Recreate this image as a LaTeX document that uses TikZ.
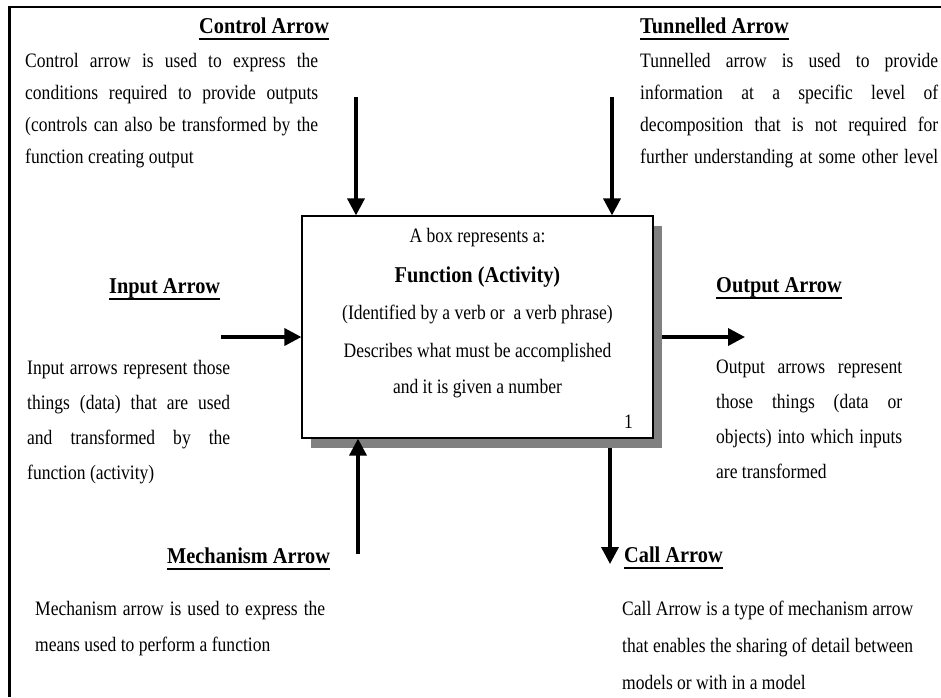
\documentclass[tikz,border=0pt]{standalone}
\usepackage{fontspec}
\setmainfont{Liberation Serif}[FakeStretch=0.855]
\newfontfamily\headfont{Liberation Serif}[FakeStretch=0.9]
\usetikzlibrary{arrows.meta}

% a line stretched to a given width, using the font's own (stretchable) spaces
\newcommand\jl[2]{{\spaceskip=0pt\xspaceskip=0pt\makebox[#1][s]{#2}}}
% natural interword spacing inside description paragraphs
\newcommand\fontspaces{\spaceskip=0pt\xspaceskip=0pt\relax}

\begin{document}
\begin{tikzpicture}[x=1pt,y=-1pt,
  head/.style={font=\headfont\fontsize{22.6}{24}\selectfont\bfseries, inner sep=0pt, anchor=base west},
  para/.style={inner sep=0pt, anchor=base west, align=justify, font=\fontsize{20.5}{#1}\selectfont\fontspaces},
  boxline/.style={inner sep=0pt, anchor=base, font=\fontsize{20.5}{22}\selectfont},
  flow/.style={line width=3.6pt, -{Triangle[length=17pt,width=17pt]}},
  uline/.style={line width=2pt}
]
\useasboundingbox (0,0) rectangle (941,697);

% outer frame (left and top edges only)
\draw[line width=2.2pt] (9.5,697) -- (9.5,7) -- (941,7);

% function box with its drop shadow
\node[fill=black!50, minimum width=351pt, minimum height=222pt, inner sep=0pt, outer sep=0pt]
  (shd) at (486.5,337) {};
\node[draw, line width=1.2pt, fill=white, minimum width=351pt, minimum height=222pt, inner sep=0pt]
  (fn) at (477.5,327) {};

\node[boxline] (b1) at (477.5,242) {A box represents a:};
\node[boxline, font=\headfont\fontsize{22.6}{24}\selectfont\bfseries] (b2) at (477.5,282) {Function (Activity)};
\node[boxline] (b3) at (477.5,319) {(Identified by a verb or\ \ a verb phrase)};
\node[boxline] (b4) at (477.5,357) {Describes what must be accomplished};
\node[boxline] (b5) at (477.5,393) {and it is given a number};
\node[boxline, anchor=base east] (bnum) at (633,428) {1};

% headings
\node[head] (hctl)  at (199,33)  {Control Arrow};
\node[head] (htun)  at (640,33)  {Tunnelled Arrow};
\node[head] (hin)   at (109,293) {Input Arrow};
\node[head] (hout)  at (716,292) {Output Arrow};
\node[head] (hmech) at (167,563) {Mechanism Arrow};
\node[head] (hcall) at (624,562) {Call Arrow};
\foreach \h in {hctl,htun,hin,hout,hmech,hcall}
  \draw[uline] ([yshift=-5.7pt]\h.base west) -- ([yshift=-5.7pt]\h.base east);

% descriptions
\node[para=32, text width=293pt] (tctl) at (25,67) {%
  \jl{293pt}{Control arrow is used to express the}\\
  \jl{293pt}{conditions required to provide outputs}\\
  \jl{293pt}{(controls can also be transformed by the}\\
  function creating output};
\node[para=32, text width=298pt] (ttun) at (640,67) {%
  \jl{298pt}{Tunnelled arrow is used to provide}\\
  \jl{298pt}{information at a specific level of}\\
  \jl{298pt}{decomposition that is not required for}\\
  \jl{298pt}{further understanding at some other level}};
\node[para=35.3, text width=203pt] (tin) at (27,374) {%
  \jl{203pt}{Input arrows represent those}\\
  \jl{203pt}{things (data) that are used}\\
  \jl{203pt}{and transformed by the}\\
  function (activity)};
\node[para=35.3, text width=186pt] (tout) at (716,373) {%
  \jl{186pt}{Output arrows represent}\\
  \jl{186pt}{those things (data or}\\
  \jl{186pt}{objects) into which inputs}\\
  are transformed};
\node[para=36, text width=290pt] (tmech) at (35,615) {%
  \jl{290pt}{Mechanism arrow is used to express the}\\
  means used to perform a function};
\node[para=37, text width=291pt] (tcall) at (622,615) {%
  \jl{291pt}{Call Arrow is a type of mechanism arrow}\\
  \jl{291pt}{that enables the sharing of detail between}\\
  models or with in a model};

% arrows
\coordinate (ctlS)  at (356,97);
\coordinate (tunS)  at (612,97);
\coordinate (inS)   at (221,337);
\coordinate (outE)  at (745,337);
\coordinate (callE) at (610,564);
\coordinate (mechS) at (358,554);
\draw[flow] (ctlS) -- (ctlS |- fn.north);
\draw[flow] (tunS) -- (tunS |- fn.north);
\draw[flow] (inS) -- (inS -| fn.west);
\draw[flow] (outE -| shd.east) -- (outE);
\draw[flow] (callE |- shd.south) -- (callE);
\draw[flow] (mechS) -- (mechS |- fn.south);
\end{tikzpicture}
\end{document}
